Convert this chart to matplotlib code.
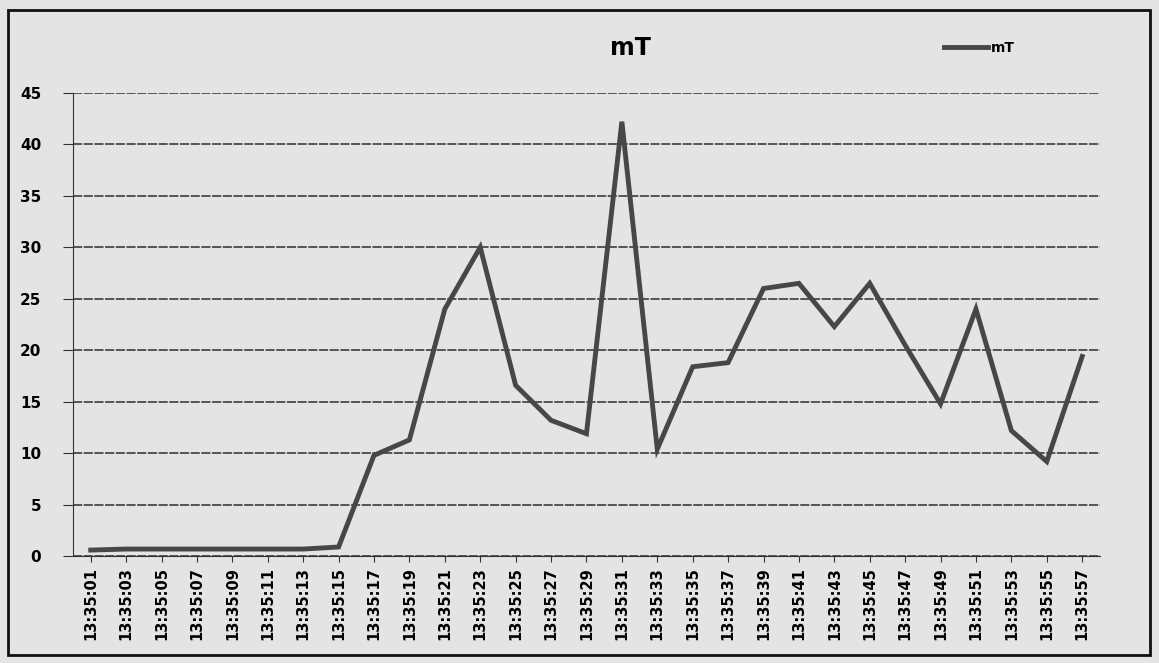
import matplotlib
matplotlib.use("Agg")
import matplotlib.pyplot as plt
from matplotlib.patches import Rectangle

# time stamps (every 2 s) and readings in mT
times = ["13:35:01", "13:35:03", "13:35:05", "13:35:07", "13:35:09", "13:35:11",
         "13:35:13", "13:35:15", "13:35:17", "13:35:19", "13:35:21", "13:35:23",
         "13:35:25", "13:35:27", "13:35:29", "13:35:31", "13:35:33", "13:35:35",
         "13:35:37", "13:35:39", "13:35:41", "13:35:43", "13:35:45", "13:35:47",
         "13:35:49", "13:35:51", "13:35:53", "13:35:55", "13:35:57"]
mT = [0.6, 0.7, 0.7, 0.7, 0.7, 0.7, 0.7, 0.9, 9.8, 11.3, 24.0, 30.0,
      16.6, 13.2, 11.9, 42.2, 10.4, 18.4, 18.8, 26.0, 26.5, 22.3, 26.5,
      20.5, 14.8, 24.0, 12.2, 9.2, 19.4]
yticks = [0, 5, 10, 15, 20, 25, 30, 35, 40, 45]

bg = "#e4e4e4"
fig = plt.figure(figsize=(11.59, 6.63), dpi=100, facecolor=bg)
ax = fig.add_axes([0.063, 0.161, 0.886, 0.699], facecolor=bg)

x = list(range(len(times)))
ax.plot(x, mT, color="#474747", linewidth=3.5, solid_joinstyle="miter", label="mT", zorder=3)

ax.set_xlim(-0.5, len(times) - 0.5)
ax.set_ylim(0, 45)
ax.set_yticks(yticks)
ax.set_yticklabels([str(v) for v in yticks], fontsize=11, fontweight="bold")
ax.set_xticks(x)
ax.set_xticklabels(times, rotation=90, fontsize=10.5, fontweight="bold")
ax.tick_params(axis="y", length=7, color="#333333", pad=16)
ax.tick_params(axis="x", length=4, color="#333333", pad=4)

# horizontal gridlines like the excel chart
ax.grid(axis="y", color="#2e2e2e", linewidth=1.1, linestyle=(0, (6, 1)))
ax.set_axisbelow(True)
for side in ["top", "right"]:
    ax.spines[side].set_visible(False)
ax.spines["left"].set_color("#333333")
ax.spines["bottom"].set_color("#333333")

fig.text(0.544, 0.928, "mT", ha="center", va="center", fontsize=17, fontweight="bold")
ax.legend(loc="center", bbox_to_anchor=(0.845, 0.928), bbox_transform=fig.transFigure,
          frameon=False, prop={"size": 10, "weight": "bold"}, handlelength=3.2,
          handletextpad=0.2)

# outer chart frame
fig.patches.append(Rectangle((0.007, 0.012), 0.985, 0.973, transform=fig.transFigure,
                             fill=False, edgecolor="#111111", linewidth=2))

fig.savefig("out.png", dpi=100, facecolor=bg)
